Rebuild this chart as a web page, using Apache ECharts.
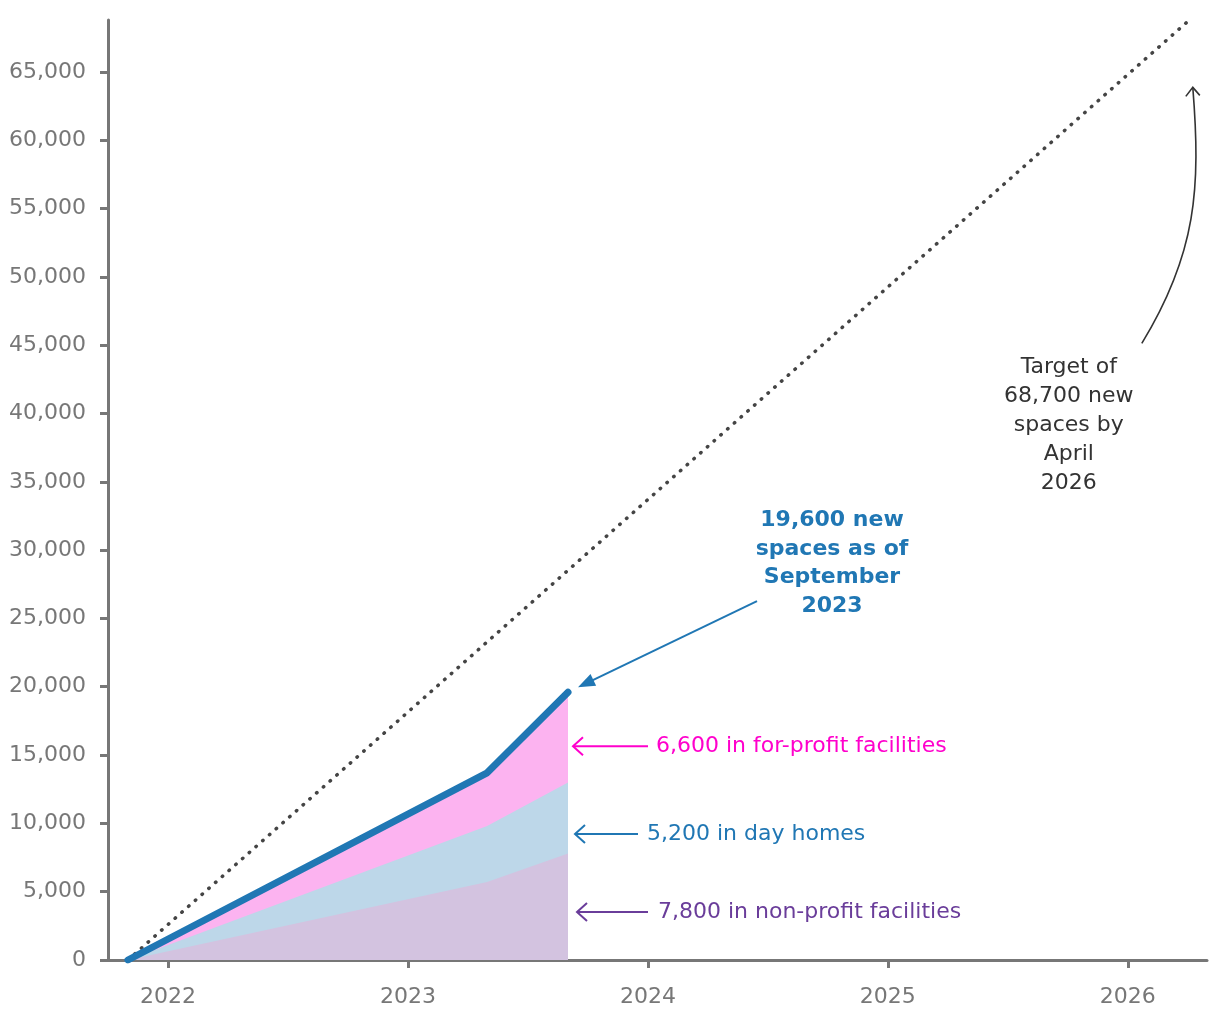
<!DOCTYPE html>
<html><head><meta charset="utf-8">
<script src="https://cdn.jsdelivr.net/npm/echarts/dist/echarts.min.js"></script>
<style>html,body{margin:0;padding:0;background:#fff}#c{width:1220px;height:1020px}</style>
</head><body><div id="c"></div>
<script>
// ---- data ----
const dates = [2021.833, 2023.33, 2023.667];      // Nov 2021, May 2023, Sep 2023
const nonProfit = [0, 5700, 7800];
const dayHomes = [0, 4100, 5200];
const forProfit = [0, 3900, 6600];
const targetDates = [2021.833, 2026.25];
const targetValues = [0, 68700];
const yearTicks = [2022, 2023, 2024, 2025, 2026];
const yTicks = [0, 5000, 10000, 15000, 20000, 25000, 30000, 35000, 40000, 45000, 50000, 55000, 60000, 65000];
const labelValues = [15650, 9220, 3510]; // vertical positions of the side labels (data units)
const labelTexts = ['6,600 in for-profit facilities', '5,200 in day homes', '7,800 in non-profit facilities'];
const totalText = '19,600 new\nspaces as of\nSeptember\n2023';
const targetText = 'Target of\n68,700 new\nspaces by\nApril\n2026';

// cumulative stack tops
const cum1 = nonProfit.slice();
const cum2 = dates.map((d, i) => nonProfit[i] + dayHomes[i]);
const total = dates.map((d, i) => nonProfit[i] + dayHomes[i] + forProfit[i]);
const pair = (xs, ys) => xs.map((x, i) => [x, ys[i]]);

const FONT = '"DejaVu Sans", sans-serif';
const AX = '#777';
const chart = echarts.init(document.getElementById('c'), null, {renderer: 'canvas'});

chart.setOption({
  animation: false,
  backgroundColor: '#fff',
  grid: {left: 108, right: 13, top: 20, bottom: 60, containLabel: false},
  xAxis: {
    type: 'value', min: 2021.75, max: 2026.33,
    axisLine: {show: true, lineStyle: {color: AX, width: 3}},
    axisTick: {show: true, customValues: yearTicks, length: 8, lineStyle: {color: AX, width: 3}},
    axisLabel: {show: true, customValues: yearTicks, margin: 26, color: AX, fontSize: 22, fontFamily: FONT,
      formatter: v => String(Math.round(v))},
    splitLine: {show: false}
  },
  yAxis: {
    type: 'value', min: 0, max: 68800,
    axisLine: {show: true, lineStyle: {color: AX, width: 3}},
    axisTick: {show: true, customValues: yTicks, length: 8, lineStyle: {color: AX, width: 3}},
    axisLabel: {show: true, customValues: yTicks, margin: 22, color: AX, fontSize: 22, fontFamily: FONT,
      formatter: v => Number(v).toLocaleString('en-US')},
    splitLine: {show: false}
  },
  series: [
    {type: 'line', name: 'For-profit', data: pair(dates, total), symbol: 'none', z: 1,
      lineStyle: {width: 0}, areaStyle: {color: '#fcb3f0', opacity: 1, origin: 'start'}},
    {type: 'line', name: 'Day homes', data: pair(dates, cum2), symbol: 'none', z: 2,
      lineStyle: {width: 0}, areaStyle: {color: '#bdd7e9', opacity: 1, origin: 'start'}},
    {type: 'line', name: 'Non-profit', data: pair(dates, cum1), symbol: 'none', z: 3,
      lineStyle: {width: 0}, areaStyle: {color: '#d3c3e0', opacity: 1, origin: 'start'}},
    {type: 'line', name: 'Target', data: pair(targetDates, targetValues), symbol: 'none', z: 4,
      lineStyle: {color: '#444', width: 3.5, type: [0.5, 8.5], cap: 'round'}},
    {type: 'line', name: 'Total', data: pair(dates, total), symbol: 'none', z: 5,
      lineStyle: {color: '#2077b4', width: 7, cap: 'round', join: 'round'}}
  ]
});

// ---- annotations (anchored to data points) ----
const P = (x, y) => chart.convertToPixel({gridIndex: 0}, [x, y]);
const last = dates.length - 1;
const end = P(dates[last], total[last]);
const g = [];

// bold total annotation with filled arrow
const tip = [end[0] + 10, end[1] - 5];
const tail = [end[0] + 189, end[1] - 91];
const dx = tip[0] - tail[0], dy = tip[1] - tail[1], len = Math.hypot(dx, dy);
const ux = dx / len, uy = dy / len;
const hl = 17, hw = 6.5;
g.push({type: 'line', shape: {x1: tail[0], y1: tail[1], x2: tip[0] - ux * hl * 0.8, y2: tip[1] - uy * hl * 0.8},
  style: {stroke: '#2077b4', lineWidth: 2}});
g.push({type: 'polygon', shape: {points: [tip,
  [tip[0] - ux * hl - uy * hw, tip[1] - uy * hl + ux * hw],
  [tip[0] - ux * hl + uy * hw, tip[1] - uy * hl - ux * hw]]}, style: {fill: '#2077b4'}});
g.push({type: 'text', style: {text: totalText, x: end[0] + 264, y: end[1] - 186, fill: '#2077b4',
  fontSize: 22, fontWeight: 'bold', fontFamily: FONT, align: 'center', verticalAlign: 'top', lineHeight: 28.5}});

// side labels with open arrows
const sideColors = ['#ff00cc', '#2077b4', '#6a3d9a'];
const sideOff = [[5, 80, 88], [7, 70, 79], [9, 80, 90]];
labelValues.forEach((v, i) => {
  const y = P(dates[last], v)[1];
  const x0 = end[0] + sideOff[i][0], x1 = end[0] + sideOff[i][1];
  g.push({type: 'line', shape: {x1: x0, y1: y, x2: x1, y2: y}, style: {stroke: sideColors[i], lineWidth: 2}});
  g.push({type: 'polyline', shape: {points: [[x0 + 10, y - 9], [x0, y], [x0 + 10, y + 9]]},
    style: {stroke: sideColors[i], lineWidth: 2, fill: null}});
  g.push({type: 'text', style: {text: labelTexts[i], x: end[0] + sideOff[i][2], y: y, fill: sideColors[i],
    fontSize: 22, fontFamily: FONT, align: 'left', verticalAlign: 'middle'}});
});

// target annotation with curved arrow
const tEnd = P(targetDates[1], targetValues[1]);
const ct = [tEnd[0] + 5, tEnd[1] + 66];
const cb = [tEnd[0] - 46, tEnd[1] + 322];
g.push({type: 'bezierCurve', shape: {x1: cb[0], y1: cb[1], cpx1: cb[0] + 55, cpy1: cb[1] - 90,
  cpx2: ct[0] + 8, cpy2: ct[1] + 100, x2: ct[0], y2: ct[1]}, style: {stroke: '#333', lineWidth: 1.6, fill: null}});
g.push({type: 'polyline', shape: {points: [[ct[0] - 7, ct[1] + 9], ct, [ct[0] + 7, ct[1] + 8]]},
  style: {stroke: '#333', lineWidth: 1.6, fill: null}});
g.push({type: 'text', style: {text: targetText, x: tEnd[0] - 119, y: tEnd[1] + 331, fill: '#333',
  fontSize: 22, fontFamily: FONT, align: 'center', verticalAlign: 'top', lineHeight: 29}});

chart.setOption({graphic: g});
</script>
</body></html>
